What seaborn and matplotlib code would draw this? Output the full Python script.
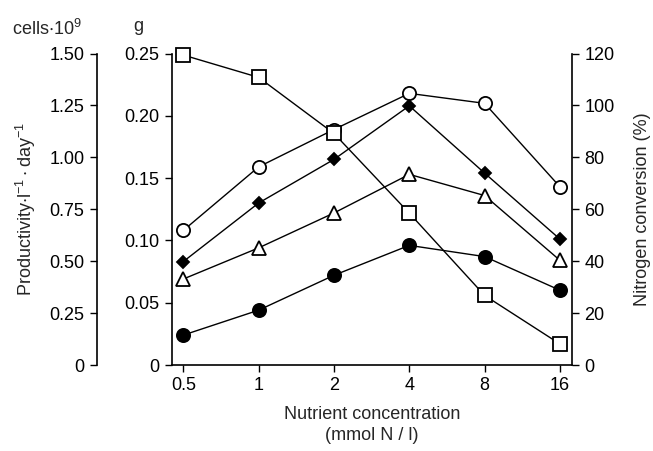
import numpy as np
import pandas as pd
import matplotlib
matplotlib.use("Agg")
import matplotlib.pyplot as plt
import seaborn as sns

# ---- data ----
concentrations = ["0.5", "1", "2", "4", "8", "16"]
open_circle_g = [0.108, 0.159, 0.189, 0.218, 0.210, 0.143]
diamond_g = [0.083, 0.130, 0.165, 0.208, 0.154, 0.101]
triangle_g = [0.069, 0.094, 0.122, 0.153, 0.136, 0.084]
filled_circle_g = [0.024, 0.044, 0.072, 0.096, 0.087, 0.060]
nitrogen_conversion_pct = [119.4, 110.8, 89.2, 58.5, 26.8, 8.1]

g_ticks = [0, 0.05, 0.10, 0.15, 0.20, 0.25]
g_labels = ["0", "0.05", "0.10", "0.15", "0.20", "0.25"]
cells_ticks = [0, 0.25, 0.5, 0.75, 1.0, 1.25, 1.5]
cells_labels = ["0", "0.25", "0.50", "0.75", "1.00", "1.25", "1.50"]
pct_ticks = [0, 20, 40, 60, 80, 100, 120]

sns.set_style("ticks")
plt.rcParams["font.family"] = ["Liberation Sans", "DejaVu Sans"]
plt.rcParams["mathtext.default"] = "regular"
plt.rcParams["font.size"] = 13

TICK_FS = 13
LABEL_FS = 13

fig = plt.figure(figsize=(6.53, 4.51), dpi=100)
ax = fig.add_axes([172 / 653, 1 - 365 / 451, 400 / 653, (365 - 53.5) / 451])
ax_pct = ax.twinx()
ax_cells = ax.twinx()

xpos = np.arange(len(concentrations))
lw = 1.0
mew = 1.3

series = [
    (open_circle_g, "o", "white", 9.5),
    (diamond_g, "D", "black", 6.5),
    (triangle_g, "^", "white", 9.5),
    (filled_circle_g, "o", "black", 9.5),
]
for vals, mk, fc, ms in series:
    df = pd.DataFrame({"x": xpos, "y": vals})
    sns.lineplot(data=df, x="x", y="y", ax=ax, color="black", linewidth=lw,
                 marker=mk, markersize=ms, markerfacecolor=fc,
                 markeredgecolor="black", markeredgewidth=mew, zorder=3,
                 clip_on=False)

df_sq = pd.DataFrame({"x": xpos, "y": nitrogen_conversion_pct})
sns.lineplot(data=df_sq, x="x", y="y", ax=ax_pct, color="black", linewidth=lw,
             marker="s", markersize=10, markerfacecolor="white",
             markeredgecolor="black", markeredgewidth=mew, zorder=3,
             clip_on=False)

# main g axis
ax.set_xlim(-0.15, 5.16)
ax.set_ylim(0, 0.25)
ax.set_xticks(xpos)
ax.set_xticklabels(concentrations)
ax.set_yticks(g_ticks)
ax.set_yticklabels(g_labels)
ax.set_ylabel("")
ax.set_xlabel("Nutrient concentration\n(mmol N / l)", labelpad=8,
              linespacing=1.35, fontsize=LABEL_FS)
for s in ["top", "right"]:
    ax.spines[s].set_visible(False)
ax.tick_params(direction="out", length=5, width=1, colors="black", pad=4,
               labelsize=TICK_FS)

# percent axis
ax_pct.set_ylim(0, 120)
ax_pct.set_yticks(pct_ticks)
ax_pct.set_ylabel("Nitrogen conversion (%)", labelpad=14, fontsize=LABEL_FS)
for s in ["top", "left", "bottom"]:
    ax_pct.spines[s].set_visible(False)
ax_pct.spines["right"].set_visible(True)
ax_pct.tick_params(direction="out", length=5, width=1, colors="black", pad=4,
                   labelsize=TICK_FS)

# cells axis (outer left)
ax_cells.set_ylim(0, 1.5)
ax_cells.spines["left"].set_position(("axes", -75 / 400))
ax_cells.spines["left"].set_visible(True)
for s in ["top", "right", "bottom"]:
    ax_cells.spines[s].set_visible(False)
ax_cells.yaxis.set_ticks_position("left")
ax_cells.yaxis.set_label_position("left")
ax_cells.set_yticks(cells_ticks)
ax_cells.set_yticklabels(cells_labels)
ax_cells.set_ylabel("Productivity$\\cdot$l$^{-1}\\cdot$day$^{-1}$", labelpad=8,
                    fontsize=LABEL_FS)
ax_cells.tick_params(direction="out", length=5, width=1, colors="black", pad=4,
                     labelsize=TICK_FS)

for a in (ax, ax_pct, ax_cells):
    for sp in a.spines.values():
        sp.set_linewidth(1.2)
        sp.set_color("black")

fig.text(12 / 653, 1 - 35 / 451, "cells$\\cdot$10$^9$", ha="left", va="baseline", fontsize=13)
fig.text(138 / 653, 1 - 31 / 451, "g", ha="center", va="baseline", fontsize=13)

fig.savefig("out.png", dpi=100)
